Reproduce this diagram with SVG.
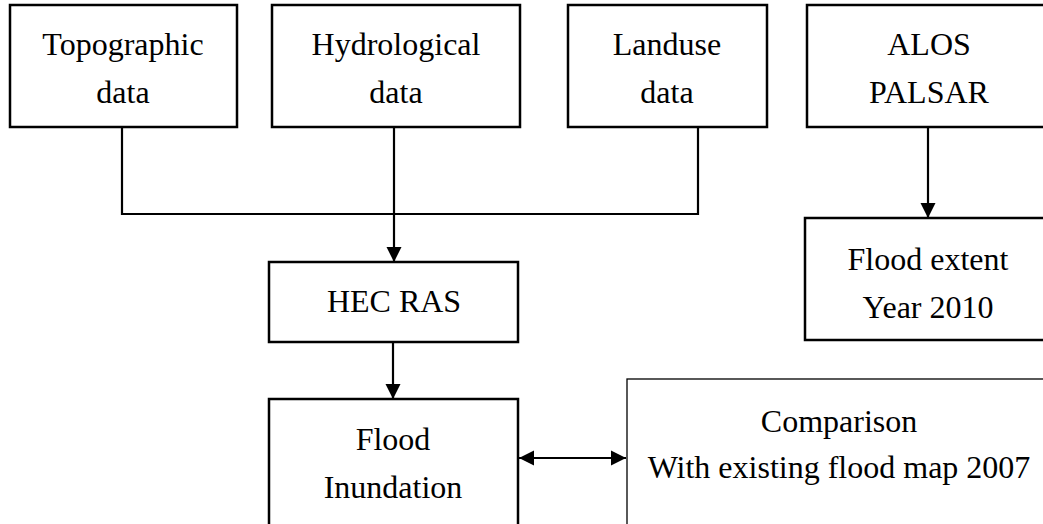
<svg xmlns="http://www.w3.org/2000/svg" width="1043" height="524" viewBox="0 0 1043 524">
<style>
.box{fill:#fff;stroke:#000;stroke-width:2.5}
.thin{fill:#fff;stroke:#000;stroke-width:1.3}
.t{font-family:"Liberation Serif","Times New Roman",serif;font-size:32px;fill:#000;text-anchor:middle}
.c{fill:none;stroke:#000;stroke-width:2.2}
</style>
<defs>
<marker id="ah" markerUnits="userSpaceOnUse" markerWidth="17" markerHeight="17" refX="15" refY="8" orient="auto-start-reverse">
<path d="M0,0.5 L15,8 L0,15.5 Z" fill="#000"/>
</marker>
</defs>
<rect width="1043" height="524" fill="#fff"/>
<g id="connectors">
<polyline class="c" points="122,127 122,214 698,214 698,127"/>
<line class="c" x1="394" y1="127" x2="394" y2="262" marker-end="url(#ah)"/>
<line class="c" x1="928" y1="127" x2="928" y2="218" marker-end="url(#ah)"/>
<line class="c" x1="393" y1="342" x2="393" y2="399" marker-end="url(#ah)"/>
<line class="c" x1="519" y1="458" x2="626" y2="458" marker-start="url(#ah)" marker-end="url(#ah)"/>
</g>
<g id="topographic">
<rect class="box" x="10" y="5" width="227" height="122"/>
<text class="t" x="123" y="55">Topographic</text>
<text class="t" x="123" y="103">data</text>
</g>
<g id="hydrological">
<rect class="box" x="272" y="5" width="248" height="122"/>
<text class="t" x="396" y="55">Hydrological</text>
<text class="t" x="396" y="103">data</text>
</g>
<g id="landuse">
<rect class="box" x="568" y="5" width="199" height="122"/>
<text class="t" x="667" y="55">Landuse</text>
<text class="t" x="667" y="103">data</text>
</g>
<g id="alos">
<rect class="box" x="807" y="5" width="245" height="122"/>
<text class="t" x="929" y="55">ALOS</text>
<text class="t" x="929" y="103">PALSAR</text>
</g>
<g id="hecras">
<rect class="box" x="269" y="262" width="249" height="80"/>
<text class="t" x="394" y="312">HEC RAS</text>
</g>
<g id="floodextent">
<rect class="box" x="805" y="218" width="246" height="122"/>
<text class="t" x="928" y="270">Flood extent</text>
<text class="t" x="928" y="318">Year 2010</text>
</g>
<g id="floodinundation">
<rect class="box" x="269" y="399" width="249" height="140"/>
<text class="t" x="393" y="450">Flood</text>
<text class="t" x="393" y="498">Inundation</text>
</g>
<g id="comparison">
<rect class="thin" x="627" y="379" width="430" height="160"/>
<text class="t" x="839" y="432">Comparison</text>
<text class="t" x="839" y="478">With existing flood map 2007</text>
</g>
</svg>
